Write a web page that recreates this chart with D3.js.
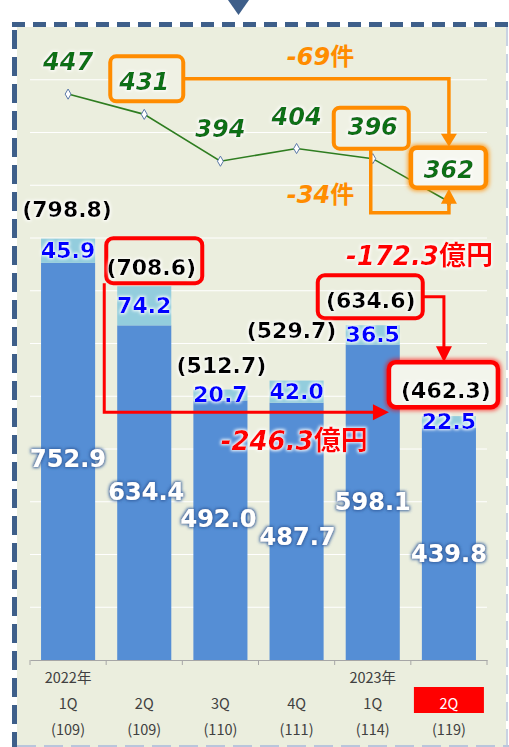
<!DOCTYPE html>
<html><head><meta charset="utf-8">
<script src="https://cdn.jsdelivr.net/npm/d3@7"></script>
<style>body{margin:0;background:#fff}svg{display:block}</style>
</head><body><svg id="c" width="509" height="747"></svg>
<script>
// ---------- data ----------
const quarterLabels = ["1Q","2Q","3Q","4Q","1Q","2Q"];
const yearLabels = ["2022年","","","","2023年",""];
const countLabels = ["(109)","(109)","(110)","(111)","(114)","(119)"];
const baseValues = [752.9, 634.4, 492.0, 487.7, 598.1, 439.8];
const addValues = [45.9, 74.2, 20.7, 42.0, 36.5, 22.5];
const totalValues = [798.8, 708.6, 512.7, 529.7, 634.6, 462.3];
const caseCounts = [447, 431, 394, 404, 396, 362];
const caseDiffLabels = ["-69", "-34"];
const amountDiffLabels = ["-172.3", "-246.3"];

// ---------- setup ----------
const svg = d3.select("#c");
const FONT = "'DejaVu Sans','Noto Sans CJK JP',sans-serif";
const CATFONT = "'Noto Sans CJK JP','DejaVu Sans',sans-serif";
const defs = svg.append("defs");
function glow(id, color, r, sd, op) {
  const f = defs.append("filter").attr("id", id)
    .attr("x", "-30%").attr("y", "-40%").attr("width", "160%").attr("height", "180%");
  f.append("feMorphology").attr("in", "SourceAlpha").attr("operator", "dilate").attr("radius", r).attr("result", "d");
  f.append("feGaussianBlur").attr("in", "d").attr("stdDeviation", sd).attr("result", "b");
  f.append("feFlood").attr("flood-color", color).attr("flood-opacity", op);
  f.append("feComposite").attr("in2", "b").attr("operator", "in").attr("result", "g");
  const m = f.append("feMerge");
  m.append("feMergeNode").attr("in", "g");
  m.append("feMergeNode").attr("in", "SourceGraphic");
}
glow("gw", "#ffffff", 1.2, 1.4, 0.95);
glow("gb", "#2f5a9a", 1.2, 1.6, 0.9);
glow("go", "#ff8c00", 1, 2.2, 0.8);
glow("gr", "#ff0000", 1, 2.2, 0.7);

// frame
svg.append("rect").attr("x", 17).attr("y", 27).attr("width", 489).attr("height", 720).attr("fill", "#ebeede");
svg.append("path").attr("d", "M228,0 H249 L238.5,15 Z").attr("fill", "#3e5f8a");
svg.append("line").attr("x1", 12).attr("x2", 509).attr("y1", 24.5).attr("y2", 24.5)
  .attr("stroke", "#3e5f8a").attr("stroke-width", 5).attr("stroke-dasharray", "13 8").attr("stroke-dashoffset", 0);
svg.append("line").attr("x1", 14.5).attr("x2", 14.5).attr("y1", 22).attr("y2", 747)
  .attr("stroke", "#3e5f8a").attr("stroke-width", 5).attr("stroke-dasharray", "19 8").attr("stroke-dashoffset", -8);
svg.append("line").attr("x1", 507).attr("x2", 507).attr("y1", 27).attr("y2", 747)
  .attr("stroke", "#c9d2e2").attr("stroke-width", 2).attr("stroke-dasharray", "19 8");
svg.append("line").attr("x1", 17).attr("x2", 509).attr("y1", 746).attr("y2", 746)
  .attr("stroke", "#b9c6dc").attr("stroke-width", 2).attr("stroke-dasharray", "19 8");

// scales
const x = d3.scaleBand().domain(d3.range(quarterLabels.length)).range([30, 487]);
const cx = i => x(i) + x.bandwidth() / 2;
const barW = x.bandwidth() * 0.71;
const y = d3.scaleLinear().domain([0, 1200]).range([660, 27]);
const y2 = d3.scaleLinear().domain([0, 500]).range([660, 27]);

// gridlines
svg.append("g").selectAll("line").data(d3.range(100, 1200, 100)).join("line")
  .attr("x1", 30).attr("x2", 487).attr("y1", d => y(d)).attr("y2", d => y(d))
  .attr("stroke", "#ffffff").attr("stroke-width", 1);

// bars
const bars = svg.append("g");
bars.selectAll(".base").data(baseValues).join("rect")
  .attr("x", (d, i) => cx(i) - barW / 2).attr("width", barW)
  .attr("y", d => y(d)).attr("height", d => y(0) - y(d)).attr("fill", "#558ed5");
bars.selectAll(".add").data(addValues).join("rect")
  .attr("x", (d, i) => cx(i) - barW / 2).attr("width", barW)
  .attr("y", (d, i) => y(baseValues[i] + d)).attr("height", (d, i) => y(baseValues[i]) - y(baseValues[i] + d))
  .attr("fill", "#93cddd");

// axis
const ax = svg.append("g").attr("transform", "translate(0,660)")
  .call(d3.axisBottom(x).tickSize(0).tickFormat(""));
ax.select(".domain").attr("stroke", "#a6a6a6");
svg.append("g").selectAll("line").data(d3.range(quarterLabels.length + 1)).join("line")
  .attr("x1", i => x.range()[0] + i * x.step()).attr("x2", i => x.range()[0] + i * x.step())
  .attr("y1", 660).attr("y2", 665).attr("stroke", "#a6a6a6");
const cat = svg.append("g").attr("font-family", CATFONT).attr("font-size", 14.5).attr("fill", "#404040").attr("text-anchor", "middle");
cat.selectAll(".yr").data(yearLabels).join("text").attr("x", (d, i) => cx(i)).attr("y", 683).text(d => d);
const lastI = quarterLabels.length - 1;
cat.append("rect").attr("x", cx(lastI) - 35).attr("y", 687).attr("width", 70).attr("height", 26).attr("fill", "#ff0000");
cat.selectAll(".q").data(quarterLabels).join("text").attr("x", (d, i) => cx(i)).attr("y", 709)
  .attr("fill", (d, i) => i === lastI ? "#ffffff" : "#404040").text(d => d);
cat.selectAll(".n").data(countLabels).join("text").attr("x", (d, i) => cx(i)).attr("y", 735).text(d => d);

// line series
const line = d3.line().x((d, i) => cx(i)).y(d => y2(d));
svg.append("path").attr("d", line(caseCounts)).attr("fill", "none").attr("stroke", "#2e7d20").attr("stroke-width", 1.6);
svg.append("g").selectAll("path").data(caseCounts).join("path")
  .attr("d", d3.symbol(d3.symbolDiamond, 30))
  .attr("transform", (d, i) => `translate(${cx(i)},${y2(d)})`)
  .attr("fill", "#ffffff").attr("stroke", "#5a78a8").attr("stroke-width", 1);

// ---------- orange annotations ----------
const OR = "#ff8c00";
const p = i => ({ c: cx(i), t: y2(caseCounts[i]) });
const p1 = p(1), p4 = p(4), p5 = p(5);
const box431 = { x0: p1.c - 34, x1: p1.c + 39, y0: p1.t - 58, y1: p1.t - 13 };
const box396 = { x0: p4.c - 39, x1: p4.c + 36, y0: p4.t - 51, y1: p4.t - 10 };
const box362 = { x0: p5.c - 38, x1: p5.c + 37, y0: p5.t - 54, y1: p5.t - 14 };
const ann = svg.append("g");
const oLine1y = (box431.y0 + box431.y1) / 2;
ann.append("path").attr("d", `M${box431.x1},${oLine1y} H${p5.c} V${box362.y0 - 12}`)
  .attr("fill", "none").attr("stroke", OR).attr("stroke-width", 3.5);
ann.append("path").attr("d", `M${p5.c - 8},${box362.y0 - 14} H${p5.c + 8} L${p5.c},${box362.y0 - 1} Z`).attr("fill", OR);
const oLine2y = p5.t + 11;
ann.append("path").attr("d", `M${p4.c - 2},${box396.y1} V${oLine2y} H${p5.c} V${box362.y1 + 14}`)
  .attr("fill", "none").attr("stroke", OR).attr("stroke-width", 3.5);
ann.append("path").attr("d", `M${p5.c - 8},${box362.y1 + 16} H${p5.c + 8} L${p5.c},${box362.y1 + 1} Z`).attr("fill", OR);
[box431, box396].forEach(b => ann.append("rect").attr("x", b.x0).attr("y", b.y0)
  .attr("width", b.x1 - b.x0).attr("height", b.y1 - b.y0).attr("rx", 6)
  .attr("fill", "#eff1e4").attr("stroke", OR).attr("stroke-width", 4));
ann.append("rect").attr("x", box362.x0).attr("y", box362.y0)
  .attr("width", box362.x1 - box362.x0).attr("height", box362.y1 - box362.y0).attr("rx", 6)
  .attr("fill", "#f6f7f0").attr("stroke", OR).attr("stroke-width", 4.5).attr("filter", "url(#go)");

// line labels
svg.append("g").attr("font-family", FONT).attr("font-size", 24).attr("font-weight", "bold")
  .attr("font-style", "italic").attr("fill", "#117014").attr("text-anchor", "middle")
  .selectAll("text").data(caseCounts).join("text")
  .attr("x", (d, i) => cx(i)).attr("y", d => y2(d) - 24).attr("filter", "url(#gw)").text(d => d);

// case diff labels
const od = svg.append("g").attr("font-family", FONT).attr("font-size", 24).attr("font-weight", "bold")
  .attr("fill", OR).attr("text-anchor", "middle");
[[caseDiffLabels[0], oLine1y - 14], [caseDiffLabels[1], oLine2y - 10]].forEach(([t, yy]) => {
  const tx = od.append("text").attr("x", (cx(3) + cx(2)) / 2 + 62).attr("y", yy);
  tx.append("tspan").attr("font-style", "italic").text(t);
  tx.append("tspan").text("件");
});

// ---------- bar labels ----------
const seg = svg.append("g").attr("font-family", FONT).attr("font-weight", "bold").attr("text-anchor", "middle");
// additions (blue) centered in light segment
seg.selectAll(".a").data(addValues).join("text")
  .attr("x", (d, i) => cx(i)).attr("y", (d, i) => (y(baseValues[i]) + y(baseValues[i] + d)) / 2 + 7)
  .attr("font-size", 22).attr("fill", "#0000ff").attr("filter", "url(#gw)").text(d => d.toFixed(1));
// base (white) inside dark segment
const baseDx = [0, 2, -2, 1, 0, 0];
const baseDy = [6, 7, -3, 14, 8, 18];
seg.selectAll(".b").data(baseValues).join("text")
  .attr("x", (d, i) => cx(i) + baseDx[i]).attr("y", (d, i) => (y(d) + y(0)) / 2 + baseDy[i])
  .attr("font-size", 24).attr("fill", "#ffffff").attr("filter", "url(#gb)").text(d => d.toFixed(1));

// red annotation boxes
const RD = "#ff0000";
const bt = i => ({ c: cx(i), t: y(totalValues[i]) });
const b1 = bt(1), b4 = bt(4), b5 = bt(5);
const rb1 = { x0: b1.c - 38, x1: b1.c + 58, y0: b1.t - 48, y1: b1.t - 3 };
const rb4 = { x0: b4.c - 55, x1: b4.c + 50, y0: b4.t - 50, y1: b4.t - 7 };
const rb5 = { x0: b5.c - 60, x1: b5.c + 49, y0: b5.t - 54, y1: b5.t - 9 };
const ra = svg.append("g");
const rLineY = rb5.y1 + 5;
ra.append("path").attr("d", `M${rb1.x0 - 2},${rb1.y1} V${rLineY} H${rb5.x0 - 14}`)
  .attr("fill", "none").attr("stroke", RD).attr("stroke-width", 3);
ra.append("path").attr("d", `M${rb5.x0 - 16},${rLineY - 8} V${rLineY + 8} L${rb5.x0},${rLineY} Z`).attr("fill", RD);
const rMidY = (rb4.y0 + rb4.y1) / 2;
ra.append("path").attr("d", `M${rb4.x1},${rMidY} H${b5.c - 5} V${rb5.y0 - 14}`)
  .attr("fill", "none").attr("stroke", RD).attr("stroke-width", 3);
ra.append("path").attr("d", `M${b5.c - 13},${rb5.y0 - 16} H${b5.c + 3} L${b5.c - 5},${rb5.y0} Z`).attr("fill", RD);
[rb1, rb4].forEach(b => ra.append("rect").attr("x", b.x0).attr("y", b.y0)
  .attr("width", b.x1 - b.x0).attr("height", b.y1 - b.y0).attr("rx", 7)
  .attr("fill", "none").attr("stroke", RD).attr("stroke-width", 4));
ra.append("rect").attr("x", rb5.x0).attr("y", rb5.y0)
  .attr("width", rb5.x1 - rb5.x0).attr("height", rb5.y1 - rb5.y0).attr("rx", 7)
  .attr("fill", "#f3f5ec").attr("stroke", RD).attr("stroke-width", 4.5).attr("filter", "url(#gr)");

// totals (black) — drawn above the boxes
const totDx = [-1, 7, 1, -5, -2, -3];
const totDy = [-22, -11, -17, -43, -17, -18];
svg.append("g").attr("font-family", FONT).attr("font-weight", "bold").attr("text-anchor", "middle")
  .selectAll("text").data(totalValues).join("text")
  .attr("x", (d, i) => cx(i) + totDx[i]).attr("y", (d, i) => y(d) + totDy[i])
  .attr("font-size", 22).attr("fill", "#000000").attr("filter", "url(#gw)").text(d => `(${d.toFixed(1)})`);

// amount diff labels
const rd = svg.append("g").attr("font-family", FONT).attr("font-size", 26).attr("font-weight", "bold")
  .attr("fill", RD).attr("text-anchor", "end").attr("filter", "url(#gw)");
[[amountDiffLabels[0], rb5.x1 - 5, rb4.y0 - 10], [amountDiffLabels[1], (cx(3) + cx(4)) / 2 + 33, rLineY + 38]].forEach(([t, xx, yy]) => {
  const tx = rd.append("text").attr("x", xx).attr("y", yy);
  tx.append("tspan").attr("font-style", "italic").text(t);
  tx.append("tspan").attr("font-size", 27).text("億円");
});
</script></body></html>
